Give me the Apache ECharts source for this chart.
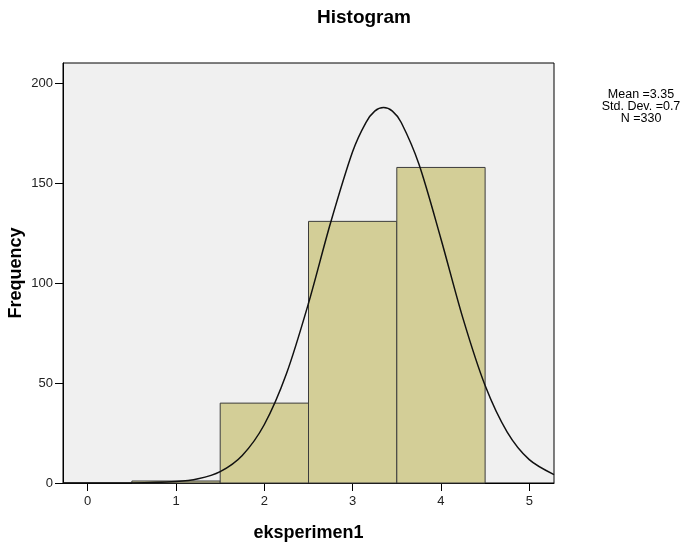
<!DOCTYPE html>
<html>
<head>
<meta charset="utf-8">
<script src="https://cdn.jsdelivr.net/npm/echarts@6/dist/echarts.min.js"></script>
<style>html,body{margin:0;padding:0;background:#fff;}#c{width:681px;height:547px;}</style>
</head>
<body>
<div id="c"></div>
<script>
// Histogram bins (lower edge, upper edge) and frequencies
var binStart = [0.5, 1.5, 2.5, 3.5];
var binEnd   = [1.5, 2.5, 3.5, 4.5];
var freq     = [1, 40, 131, 158];

// Normal curve
var curveX = [-0.28, 0, 0.5, 1, 1.25, 1.5, 1.75, 2, 2.25, 2.5, 2.75, 3, 3.15, 3.25, 3.35, 3.45, 3.55, 3.75, 4, 4.25, 4.5, 4.75, 5, 5.28];
var curveY = [0, 0, 0.05, 0.7, 2.1, 5.7, 13.8, 29.3, 54.7, 90, 130.3, 166, 180.5, 186.2, 188, 186.2, 180.5, 159.7, 122.2, 82.3, 48.8, 25.5, 11.7, 4.2];

var xTicks = [0, 1, 2, 3, 4, 5];
var yTicks = [0, 50, 100, 150, 200];
var statsText = ['Mean =3.35', 'Std. Dev. =0.7', 'N =330'];

var chart = echarts.init(document.getElementById('c'), null, {renderer: 'canvas'});
var font = 'Arial, "Liberation Sans", sans-serif';

var barData = binStart.map(function (s, i) { return [s, binEnd[i], freq[i]]; });
var lineData = curveX.map(function (x, i) { return [x, curveY[i]]; });

chart.setOption({
  animation: false,
  backgroundColor: '#ffffff',
  title: [{
    text: 'Histogram', left: 312, top: 3,
    textStyle: {fontFamily: font, fontSize: 19, fontWeight: 'bold', color: '#000'}
  }],
  graphic: [{
    type: 'text', x: 641, y: 89,
    style: {text: statsText.join('\n'), font: '12.5px ' + font, lineHeight: 12, fill: '#000', textAlign: 'center', textVerticalAlign: 'top'}
  }],
  grid: {left: 63, right: 127, top: 63, bottom: 64, containLabel: false, outerBoundsMode: 'none', show: true, backgroundColor: '#f0f0f0', borderColor: '#000', borderWidth: 1},
  xAxis: {
    type: 'value', min: -0.28, max: 5.28,
    name: 'eksperimen1', nameLocation: 'middle', nameGap: 41, nameMoveOverlap: false,
    nameTextStyle: {fontFamily: font, fontSize: 18, fontWeight: 'bold', color: '#000'},
    axisLine: {show: true, onZero: false, lineStyle: {color: '#000'}},
    axisTick: {show: true, length: 8, customValues: xTicks, lineStyle: {color: '#000'}},
    axisLabel: {customValues: xTicks, fontFamily: font, fontSize: 13, color: '#222', margin: 12},
    splitLine: {show: false}
  },
  yAxis: {
    type: 'value', min: 0, max: 210.3,
    name: 'Frequency', nameLocation: 'middle', nameGap: 38, nameMoveOverlap: false,
    nameTextStyle: {fontFamily: font, fontSize: 18, fontWeight: 'bold', color: '#000'},
    axisLine: {show: true, onZero: false, lineStyle: {color: '#000'}},
    axisTick: {show: true, length: 8, customValues: yTicks, lineStyle: {color: '#000'}},
    axisLabel: {customValues: yTicks, fontFamily: font, fontSize: 13, color: '#222', margin: 10},
    splitLine: {show: false}
  },
  series: [{
    type: 'custom',
    data: barData,
    renderItem: function (params, api) {
      var p0 = api.coord([api.value(0), api.value(2)]);
      var p1 = api.coord([api.value(1), 0]);
      return {
        type: 'rect',
        shape: {x: p0[0], y: p0[1], width: p1[0] - p0[0], height: p1[1] - p0[1]},
        style: {fill: '#d3ce97', stroke: '#3c3c3c', lineWidth: 1}
      };
    },
    encode: {x: [0, 1], y: 2},
    z: 2
  }, {
    type: 'line',
    data: lineData,
    smooth: 0.3,
    symbol: 'none',
    lineStyle: {color: '#111', width: 1.5},
    z: 3
  }]
});
</script>
</body>
</html>
